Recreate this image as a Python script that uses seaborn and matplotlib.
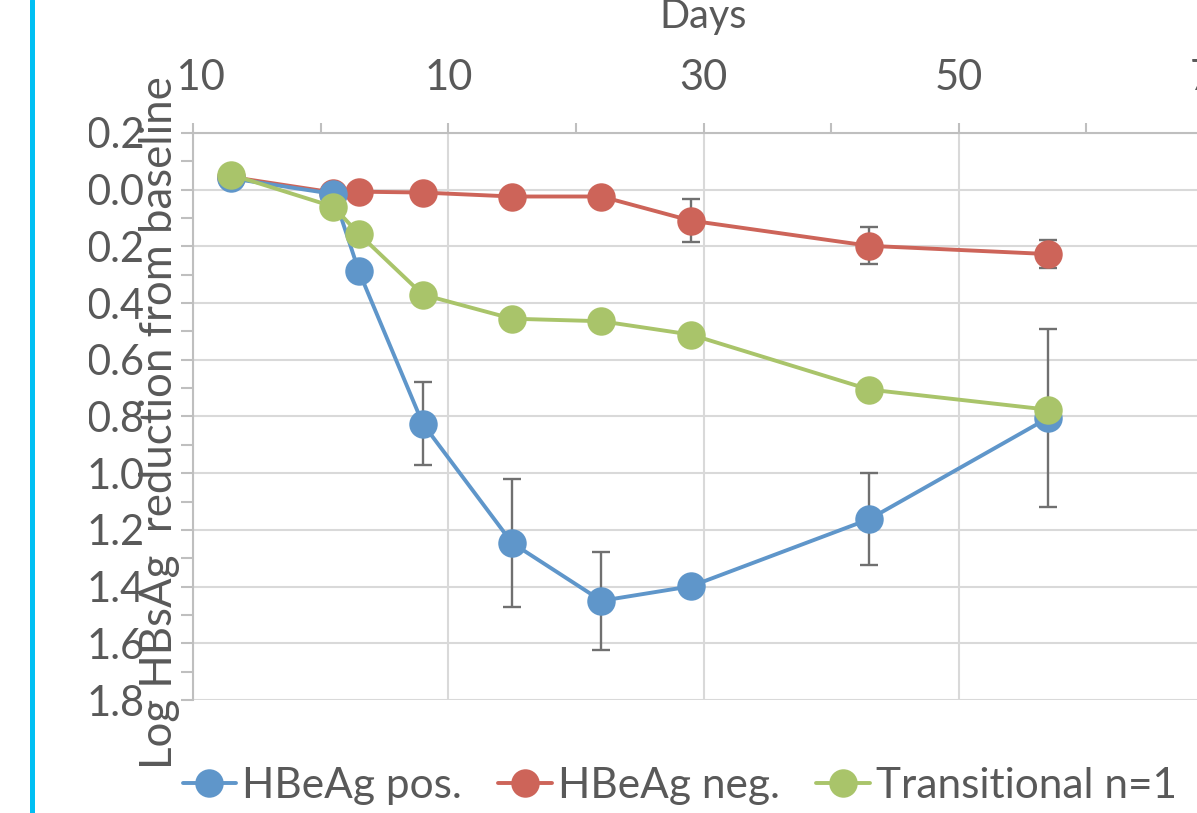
import numpy as np
import pandas as pd
import matplotlib
matplotlib.use("Agg")
import matplotlib.pyplot as plt
import seaborn as sns
from matplotlib.lines import Line2D
from matplotlib.transforms import Bbox

# ---------------- data ----------------
days = [-7, 1, 3, 8, 15, 22, 29, 43, 57]
pos_vals = [-0.040, 0.015, 0.288, 0.825, 1.246, 1.450, 1.399, 1.162, 0.805]
pos_err = [0.0, 0.0, 0.02, 0.146, 0.225, 0.172, 0.03, 0.162, 0.315]
neg_vals = [-0.045, 0.010, 0.007, 0.010, 0.024, 0.024, 0.109, 0.198, 0.227]
neg_err = [0.0, 0.0, 0.0, 0.0, 0.0, 0.0, 0.075, 0.065, 0.050]
trans_vals = [-0.053, 0.060, 0.156, 0.370, 0.455, 0.464, 0.511, 0.705, 0.776]

series_names = ["HBeAg pos.", "HBeAg neg.", "Transitional n=1"]
series_colors = ["#5f96ca", "#cd6459", "#a9c46a"]

x_ticks = [-10, 10, 30, 50, 70]
x_tick_labels = ["-10", "10", "30", "50", "70"]
x_minor_ticks = [0, 20, 40, 60]
y_ticks = [-0.2, 0.0, 0.2, 0.4, 0.6, 0.8, 1.0, 1.2, 1.4, 1.6, 1.8]
y_tick_labels = ["-0.2", "0.0", "0.2", "0.4", "0.6", "0.8", "1.0", "1.2", "1.4", "1.6", "1.8"]
y_minor_ticks = [-0.1, 0.1, 0.3, 0.5, 0.7, 0.9, 1.1, 1.3, 1.5, 1.7]
x_title = "Days"
y_title = "Log HBsAg  reduction from baseline"

# ---------------- style ----------------
W, H = 1197, 813
sns.set_theme(style="white")
plt.rcParams["font.family"] = ["Lato", "DejaVu Sans"]
TXT = "#595959"
AXC = "#bfbfbf"
GRID = "#d9d9d9"
FS_TICK = 30
FS_LEG = 30.5
FS_TITLE = 28.5
FS_YT = 31.5

fig = plt.figure(figsize=(W / 100, H / 100), dpi=100)
fig.patch.set_facecolor("white")
ax = fig.add_axes([193 / W, 1 - 700 / H, 1021 / W, 567 / H])
ax.set_facecolor("white")

df = pd.DataFrame({
    "day": days * 3,
    "value": pos_vals + neg_vals + trans_vals,
    "group": [series_names[0]] * len(days) + [series_names[1]] * len(days)
             + [series_names[2]] * len(days),
})
palette = dict(zip(series_names, series_colors))
draw_order = [series_names[1], series_names[0], series_names[2]]

# error bars (below the markers)
for vals, errs in [(pos_vals, pos_err), (neg_vals, neg_err)]:
    ax.errorbar(days, vals, yerr=errs, fmt="none", ecolor="#707070",
                elinewidth=1.7, capsize=6.2, capthick=1.7, zorder=1.8)

sns.lineplot(data=df, x="day", y="value", hue="group", hue_order=draw_order,
             palette=palette, marker="o", markersize=20.5, markeredgewidth=0,
             linewidth=2.8, sort=False, estimator=None, legend=False, ax=ax, zorder=2.5)

ax.set_xlim(-10, 70)
ax.set_ylim(1.8, -0.2)
ax.xaxis.tick_top()
ax.set_xticks(x_ticks, x_tick_labels)
ax.set_xticks(x_minor_ticks, minor=True)
ax.set_yticks(y_ticks, y_tick_labels)
ax.set_yticks(y_minor_ticks, minor=True)
ax.tick_params(axis="x", which="both", direction="out", length=7.2, width=1.5,
               color=AXC, top=True, bottom=False, labeltop=True, labelbottom=False,
               pad=19, labelsize=FS_TICK, labelcolor=TXT)
ax.tick_params(axis="y", which="both", direction="out", length=8.6, width=1.5,
               color=AXC, left=True, right=False, pad=26, labelsize=FS_TICK, labelcolor=TXT)
ax.grid(True, which="major", color=GRID, lw=1.5)
ax.grid(False, which="minor")
ax.set_axisbelow(True)
for s in ["bottom", "right"]:
    ax.spines[s].set_visible(False)
for s in ["top", "left"]:
    ax.spines[s].set_visible(True)
    ax.spines[s].set_color(AXC)
    ax.spines[s].set_linewidth(1.5)
ax.set_xlabel("")
ax.set_ylabel("")

fig.text(703 / W, 1 - 28 / H, x_title, ha="center", va="baseline", fontsize=FS_TITLE, color=TXT)
fig.text(160 / W, 1 - 423 / H, y_title, rotation=90, ha="center", va="center",
         fontsize=FS_YT, color=TXT)

handles = [Line2D([], [], color=c, lw=2.8, marker="o", ms=20.5, mew=0) for c in series_colors]
fig.legend(handles, series_names, loc="center left", bbox_to_anchor=(182.5 / W, 1 - 786 / H),
           ncol=3, frameon=False, fontsize=FS_LEG, labelcolor=TXT, handlelength=1.27,
           handletextpad=0.14, columnspacing=0.85, borderpad=0, borderaxespad=0)

fig.add_artist(Line2D([31.5 / W, 31.5 / W], [0, 1], transform=fig.transFigure,
                      color="#00bff3", lw=3.6))

fig.canvas.draw()
for lbl in ax.get_yticklabels():
    lbl.set_clip_box(Bbox.from_extents(89, 0, W, H))
    lbl.set_clip_on(True)
xl = ax.get_xticklabels()
xl[0].set_clip_box(Bbox.from_extents(177, 0, W, H))
xl[0].set_clip_on(True)

fig.savefig("out.png", dpi=100, facecolor="white")
